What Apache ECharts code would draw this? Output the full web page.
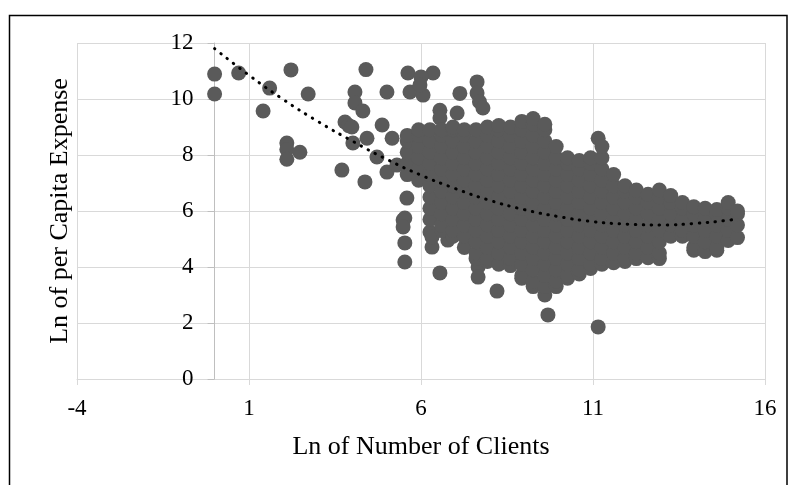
<!DOCTYPE html>
<html>
<head>
<meta charset="utf-8">
<script src="https://cdn.jsdelivr.net/npm/echarts@6/dist/echarts.min.js"></script>
<style>
html,body{margin:0;padding:0;background:#fff;}
#c{width:792px;height:485px;}
</style>
</head>
<body>
<div id="c"></div>
<script>
// ---- data ----
const xTitle = 'Ln of Number of Clients';
const yTitle = 'Ln of per Capita Expense';

// scattered individual points [x, y]
const outliers = [
  [0.0,10.89],[0.0,10.18],[0.7,10.93],[1.6,10.39],[2.22,11.04],[2.72,10.18],[1.41,9.57],
  [2.1,8.43],[2.1,8.2],[2.1,7.85],[2.48,8.1],
  [3.7,7.46],[3.79,9.18],[3.9,9.05],[3.99,9.0],[4.02,8.43],[4.43,8.6],[4.08,10.25],[4.08,9.86],
  [4.31,9.57],[4.37,7.04],[4.4,11.05],[4.87,9.07],[5.01,10.25],[4.72,7.93],[5.01,7.39],[5.3,7.64],[5.16,8.6],
  [5.62,10.93],[6.35,10.93],[6.0,10.79],[5.68,10.25],[6.06,10.14],[5.97,10.5],
  [6.55,9.6],[6.55,9.32],[7.05,9.5],[7.13,10.2],[7.63,10.61],[7.63,10.21],[7.7,9.9],[7.8,9.68],
  [5.59,6.46],[5.48,5.68],[5.53,5.75],[5.48,5.43],[5.53,4.86],[5.53,4.18],
  [6.26,5.25],[6.32,4.71],[6.32,5.07],[6.55,3.79],[6.78,4.96],[7.66,4.0],[7.66,3.64],
  [8.21,3.14],[9.69,2.29],[11.15,1.86],[11.15,8.6]
];

// dense cloud, by column: x and the y values of the points in that column
const cloudX = [5.6,5.93,6.26,6.6,6.93,7.26,7.6,7.93,8.26,8.6,8.93,9.26,9.6,9.93,10.26,
  10.6,10.93,11.26,11.6,11.93,12.26,12.6,12.93,13.26,13.6,13.93,14.26,14.6,14.93,15.2];
const cloudY = [
  [7.3,7.7,8.1,8.5,8.7],
  [7.1,7.5,7.9,8.3,8.7,8.9],
  [5.7,6.1,6.5,6.9,7.3,7.7,8.1,8.5,8.9],
  [5.3,5.5,5.9,6.3,6.7,7.1,7.5,7.9,8.3,8.7,8.9],
  [5.1,5.3,5.7,6.1,6.5,6.9,7.3,7.7,8.1,8.5,8.9,9.0],
  [4.7,5.1,5.5,5.9,6.3,6.7,7.1,7.5,7.9,8.3,8.7,8.9],
  [4.3,4.5,4.9,5.3,5.7,6.1,6.5,6.9,7.3,7.7,8.1,8.5,8.9],
  [4.2,4.3,4.7,5.1,5.5,5.9,6.3,6.7,7.1,7.5,7.9,8.3,8.7,9.0],
  [4.1,4.5,4.9,5.3,5.7,6.1,6.5,6.9,7.3,7.7,8.1,8.5,8.9,9.05],
  [4.05,4.3,4.7,5.1,5.5,5.9,6.3,6.7,7.1,7.5,7.9,8.3,8.7,9.0],
  [3.6,3.7,4.1,4.5,4.9,5.3,5.7,6.1,6.5,6.9,7.3,7.7,8.1,8.5,8.9,9.2],
  [3.3,3.5,3.9,4.3,4.7,5.1,5.5,5.9,6.3,6.7,7.1,7.5,7.9,8.3,8.7,9.1,9.3],
  [3.0,3.3,3.7,4.1,4.5,4.9,5.3,5.7,6.1,6.5,6.9,7.3,7.7,8.1,8.5,8.9,9.1],
  [3.3,3.5,3.9,4.3,4.7,5.1,5.5,5.9,6.3,6.7,7.1,7.5,7.9,8.3],
  [3.6,3.7,4.1,4.5,4.9,5.3,5.7,6.1,6.5,6.9,7.3,7.7,7.9],
  [3.75,3.9,4.3,4.7,5.1,5.5,5.9,6.3,6.7,7.1,7.5,7.8],
  [3.95,4.1,4.5,4.9,5.3,5.7,6.1,6.5,6.9,7.3,7.7,7.9],
  [4.1,4.3,4.7,5.1,5.5,5.9,6.3,6.7,7.1,7.5,7.9,8.3],
  [4.15,4.5,4.9,5.3,5.7,6.1,6.5,6.9,7.3],
  [4.2,4.3,4.7,5.1,5.5,5.9,6.3,6.7,6.9],
  [4.3,4.5,4.9,5.3,5.7,6.1,6.5,6.75],
  [4.33,4.7,5.1,5.5,5.9,6.3,6.6],
  [4.3,4.5,4.9,5.3,5.7,6.1,6.5,6.75],
  [5.1,5.5,5.9,6.3,6.55],
  [5.1,5.3,5.7,6.1,6.3],
  [4.6,4.7,5.1,5.5,5.9,6.15],
  [4.55,4.9,5.3,5.7,6.1],
  [4.6,4.7,5.1,5.5,5.9,6.05],
  [4.95,5.3,5.7,6.1,6.3],
  [5.05,5.5,5.9,6.0]
];

// polynomial trendline, values
const trendX = [0,1,2,3,4,5,6,7,8,9,10,11,12,13,14,15,15.2];
const trendY = [11.8,10.85,9.98,9.2,8.5,7.85,7.28,6.8,6.38,6.05,5.8,5.62,5.53,5.5,5.56,5.68,5.73];

const xTicks = {min:-4, max:16, step:5};
const yTicks = {min:0, max:12, step:2};

// ---- build ----
const points = outliers.slice();
cloudX.forEach((x,i)=>cloudY[i].forEach(y=>points.push([x,y])));
const trend = trendX.map((x,i)=>[x,trendY[i]]);

const W = 792, GL = 77, GR = 27;
// y axis crosses the x axis at x = 0: shift the whole y axis (line, ticks, labels, title) there
const yCross = GL + (0 - xTicks.min) / (xTicks.max - xTicks.min) * (W - GL - GR);
const yOffset = -(yCross - GL);

const FONT = 'Liberation Serif';
const chart = echarts.init(document.getElementById('c'), null, {renderer:'canvas'});
chart.setOption({
  animation:false,
  backgroundColor:'#fff',
  grid:{left:GL,right:GR,top:43,bottom:106,containLabel:false,outerBoundsMode:'none'},
  xAxis:{
    type:'value', min:xTicks.min, max:xTicks.max, interval:xTicks.step,
    name:xTitle, nameLocation:'middle', nameGap:55,
    nameTextStyle:{fontFamily:FONT,fontSize:26,color:'#000'},
    axisLine:{show:true,onZero:false,lineStyle:{color:'#d9d9d9',width:1}},
    axisTick:{show:true,length:6,lineStyle:{color:'#d9d9d9'}},
    axisLabel:{fontFamily:FONT,fontSize:23,color:'#000',margin:18},
    splitLine:{show:true,lineStyle:{color:'#d9d9d9',width:1}}
  },
  yAxis:{
    type:'value', min:yTicks.min, max:yTicks.max, interval:yTicks.step,
    offset:yOffset,
    name:yTitle, nameLocation:'middle', nameGap:141,
    nameTextStyle:{fontFamily:FONT,fontSize:26,color:'#000'},
    axisLine:{show:true,onZero:false,lineStyle:{color:'#bfbfbf',width:1}},
    axisTick:{show:true,length:7,lineStyle:{color:'#bfbfbf'}},
    axisLabel:{fontFamily:FONT,fontSize:23,color:'#000',margin:21},
    splitLine:{show:true,lineStyle:{color:'#d9d9d9',width:1}}
  },
  graphic:[{
    type:'rect', silent:true, z:100,
    shape:{x:9.5,y:15.5,width:777.5,height:480},
    style:{fill:'none',stroke:'#000',lineWidth:1.5}
  }],
  series:[
    {type:'scatter', data:points, symbol:'circle', symbolSize:15,
     itemStyle:{color:'#5a5a5a',opacity:1}, progressive:0, large:false, z:2},
    {type:'line', data:trend, smooth:true, showSymbol:false, symbol:'none', z:3,
     lineStyle:{color:'#000',width:3,type:[0.5,7.5],cap:'round'}}
  ]
});
</script>
</body>
</html>
